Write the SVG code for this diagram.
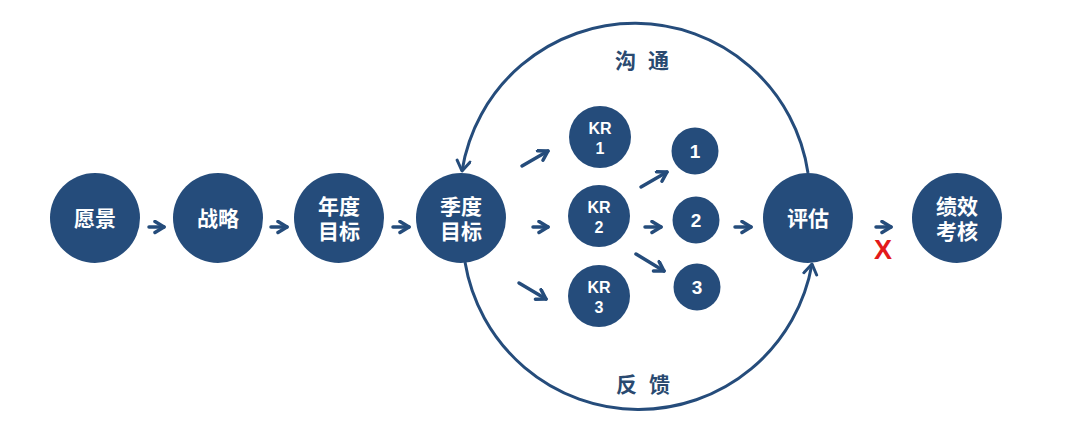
<svg xmlns="http://www.w3.org/2000/svg" width="1080" height="432" viewBox="0 0 1080 432">
<style>
.n{fill:#254c7b}
.t{fill:#fff;font-family:"Liberation Sans","Noto Sans CJK SC",sans-serif;font-weight:bold;text-anchor:middle}
.big{font-size:21px}
.kr{font-size:16px}
.num{font-size:19px}
.lbl{fill:#2a4a70;font-family:"Noto Sans CJK SC",sans-serif;font-weight:bold;font-size:21px;text-anchor:middle;letter-spacing:12px}
.c{fill:none;stroke:#254c7b;stroke-width:3.5;stroke-linecap:round}
.arc{fill:none;stroke:#254c7b;stroke-width:3}
</style>
<defs>
<marker id="h" markerUnits="userSpaceOnUse" markerWidth="16" markerHeight="16" refX="11" refY="7" orient="auto">
<path d="M2,1.5 L11,7 L2,12.5" fill="none" stroke="#254c7b" stroke-width="3.5" stroke-linecap="round" stroke-linejoin="round"/>
</marker>
<marker id="ha" markerUnits="userSpaceOnUse" markerWidth="18" markerHeight="18" refX="12" refY="8" orient="auto">
<path d="M2,1.5 L12,8 L2,14.5" fill="none" stroke="#254c7b" stroke-width="3" stroke-linecap="round" stroke-linejoin="round"/>
</marker>
</defs>
<rect width="1080" height="432" fill="#fff"/>
<g id="connectors">
<path class="arc" d="M808 173 A175 175 0 0 0 462 171" marker-end="url(#ha)"/>
<path class="arc" d="M465 262 A176 176 0 0 0 812 264" marker-end="url(#ha)"/>
<line class="c" x1="149" y1="227" x2="164" y2="227" marker-end="url(#h)"/>
<line class="c" x1="271" y1="227" x2="287" y2="227" marker-end="url(#h)"/>
<line class="c" x1="393" y1="227" x2="409" y2="227" marker-end="url(#h)"/>
<line class="c" x1="533" y1="227" x2="548" y2="227" marker-end="url(#h)"/>
<line class="c" x1="645" y1="227" x2="661" y2="227" marker-end="url(#h)"/>
<line class="c" x1="735" y1="227" x2="751" y2="227" marker-end="url(#h)"/>
<line class="c" x1="876" y1="227" x2="891" y2="227" marker-end="url(#h)"/>
<line class="c" x1="522" y1="166" x2="548" y2="151" marker-end="url(#h)"/>
<line class="c" x1="641" y1="187" x2="667" y2="172" marker-end="url(#h)"/>
<line class="c" x1="636" y1="254" x2="664" y2="271" marker-end="url(#h)"/>
<line class="c" x1="519" y1="283" x2="546" y2="299" marker-end="url(#h)"/>
</g>
<g id="n1"><circle class="n" cx="95" cy="218" r="45"/><text class="t big" x="95" y="226">愿景</text></g>
<g id="n2"><circle class="n" cx="218" cy="218" r="45"/><text class="t big" x="218" y="226">战略</text></g>
<g id="n3"><circle class="n" cx="339" cy="218" r="45"/><text class="t big" x="339" y="214">年度</text><text class="t big" x="339" y="239">目标</text></g>
<g id="n4"><circle class="n" cx="461" cy="218" r="45"/><text class="t big" x="461" y="214">季度</text><text class="t big" x="461" y="239">目标</text></g>
<g id="kr1"><circle class="n" cx="600" cy="137" r="31"/><text class="t kr" x="600" y="134">KR</text><text class="t kr" x="600" y="154">1</text></g>
<g id="kr2"><circle class="n" cx="599" cy="216" r="31"/><text class="t kr" x="599" y="213">KR</text><text class="t kr" x="599" y="233">2</text></g>
<g id="kr3"><circle class="n" cx="599" cy="296" r="31"/><text class="t kr" x="599" y="293">KR</text><text class="t kr" x="599" y="313">3</text></g>
<g id="s1"><circle class="n" cx="695" cy="151" r="23.5"/><text class="t num" x="695" y="158">1</text></g>
<g id="s2"><circle class="n" cx="696" cy="220" r="23.5"/><text class="t num" x="696" y="227">2</text></g>
<g id="s3"><circle class="n" cx="697" cy="287" r="23.5"/><text class="t num" x="697" y="294">3</text></g>
<g id="n5"><circle class="n" cx="808" cy="218" r="45"/><text class="t big" x="808" y="226">评估</text></g>
<g id="n6"><circle class="n" cx="957" cy="218" r="45"/><text class="t big" x="957" y="214">绩效</text><text class="t big" x="957" y="239">考核</text></g>
<g id="labels">
<text class="lbl" x="648" y="68">沟通</text>
<text class="lbl" x="649" y="392">反馈</text>
<text x="883" y="259" fill="#e31a1a" font-family="Liberation Sans,sans-serif" font-weight="bold" font-size="27" text-anchor="middle">X</text>
</g>
</svg>
